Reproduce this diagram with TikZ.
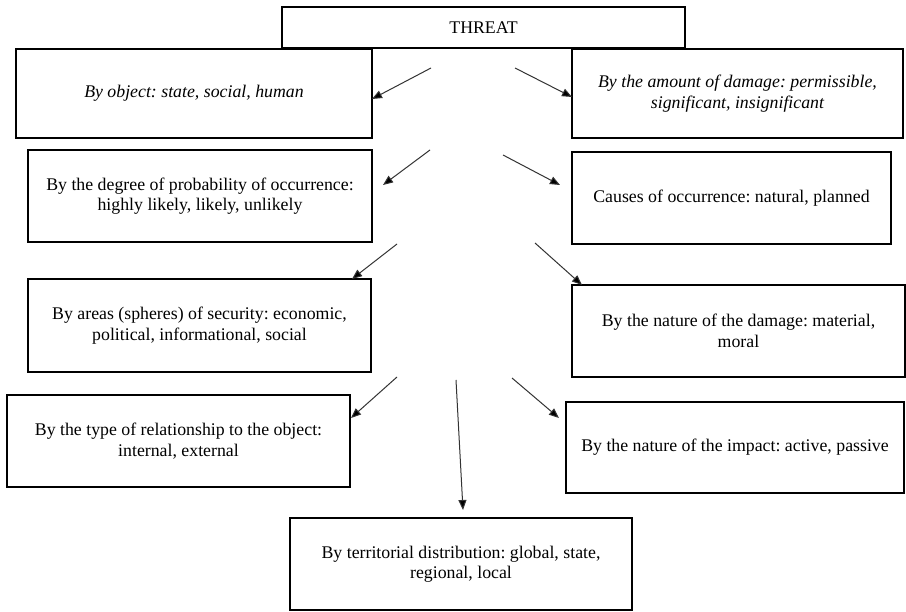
\documentclass[tikz,border=0pt]{standalone}
\usepackage{fontspec}
\setmainfont{Liberation Serif}
\usetikzlibrary{arrows.meta}
\frenchspacing
\begin{document}
\begin{tikzpicture}[x=1pt,y=-1pt,
  box/.style={draw=black, line width=2.6pt, rectangle, align=center, inner sep=0pt,
    font=\fontsize{17.8}{20.5}\selectfont},
  ibox/.style={box, font=\fontsize{17.8}{20.5}\selectfont\itshape},
  arr/.style={draw=black!80, line width=1pt, -{Triangle[length=10pt,width=8pt,fill=black]}}]
\useasboundingbox (0,0) rectangle (906,612);
\fill[white] (0,0) rectangle (906,612);

\node[box, minimum width=403pt, minimum height=41pt] (T) at (483.5,27.5) {THREAT};
\node[ibox, minimum width=356pt, minimum height=89pt] (B1) at (194,93.5) {By object: state, social, human};
\node[ibox, minimum width=331pt, minimum height=89pt] (B2) at (737.5,93.5) {By the amount of damage: permissible,\\significant, insignificant};
\node[box, minimum width=344pt, minimum height=92pt] (B3) at (200,196) {By the degree of probability of occurrence:\\highly likely, likely, unlikely};
\node[box, minimum width=319pt, minimum height=92pt] (B4) at (731.5,198) {Causes of occurrence: natural, planned};
\node[box, minimum width=343pt, minimum height=93pt] (B5) at (199.5,325.5) {By areas (spheres) of security: economic,\\political, informational, social};
\node[box, minimum width=333pt, minimum height=92pt] (B6) at (738.5,331) {By the nature of the damage: material,\\moral};
\node[box, minimum width=343pt, minimum height=92pt] (B7) at (178.5,441) {By the type of relationship to the object:\\internal, external};
\node[box, minimum width=338pt, minimum height=91pt] (B8) at (735,447.5) {By the nature of the impact: active, passive};
\node[box, minimum width=342pt, minimum height=92pt] (B9) at (461,564) {By territorial distribution: global, state,\\regional, local};

\coordinate (s1) at (431,68);  \coordinate (e1) at (372,99);
\coordinate (s2) at (515,68);  \coordinate (e2) at (572,97);
\coordinate (s3) at (430,150); \coordinate (e3) at (383,185);
\coordinate (s4) at (503,155); \coordinate (e4) at (560,185);
\coordinate (s5) at (397,244); \coordinate (e5) at (352,279);
\coordinate (s6) at (535,243); \coordinate (e6) at (582,285);
\coordinate (s7) at (397,377); \coordinate (e7) at (351,418);
\coordinate (s8) at (512,378); \coordinate (e8) at (559,418);
\coordinate (s9) at (456,380); \coordinate (e9) at (463,510);

\draw[arr] (s1) -- (e1);
\draw[arr] (s2) -- (e2);
\draw[arr] (s3) -- (e3);
\draw[arr] (s4) -- (e4);
\draw[arr] (s5) -- (e5);
\draw[arr] (s6) -- (e6);
\draw[arr] (s7) -- (e7);
\draw[arr] (s8) -- (e8);
\draw[arr] (s9) -- (e9);
\end{tikzpicture}
\end{document}
